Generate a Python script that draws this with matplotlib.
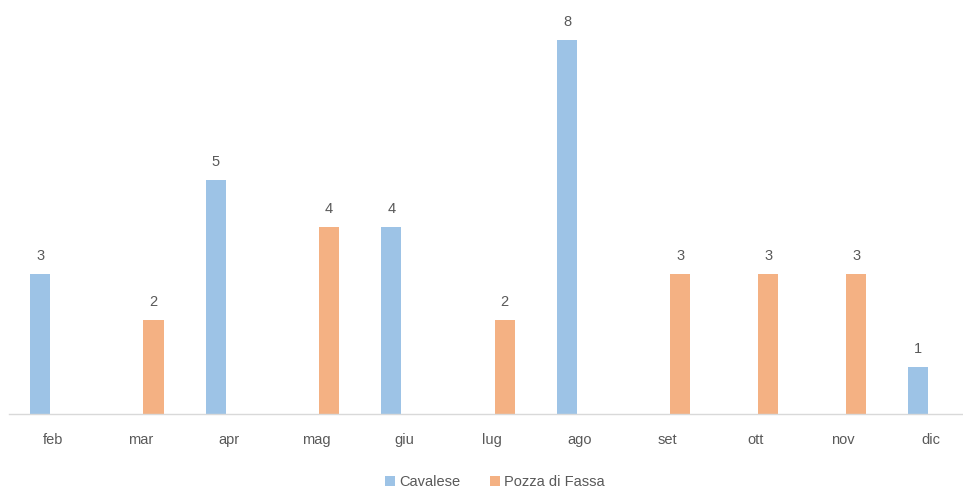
import numpy as np
import matplotlib.pyplot as plt

months = ["feb", "mar", "apr", "mag", "giu", "lug", "ago", "set", "ott", "nov", "dic"]
cavalese = [3, 0, 5, 0, 4, 0, 8, 0, 0, 0, 1]
pozza = [0, 2, 0, 4, 0, 2, 0, 3, 3, 3, 0]

blue = "#9DC3E6"
orange = "#F4B183"
text_col = "#595959"

plt.rcParams["font.family"] = ["Liberation Sans", "DejaVu Sans"]

fig = plt.figure(figsize=(9.63, 4.9), dpi=100)
ax = fig.add_axes([9 / 963, 76 / 490, 966 / 963, 421 / 490])

x = np.arange(len(months))
w = 0.228
off = 0.1455

b1 = ax.bar(x - off, cavalese, w, color=blue, label="Cavalese")
b2 = ax.bar(x + off, pozza, w, color=orange, label="Pozza di Fassa")

for bars, vals in ((b1, cavalese), (b2, pozza)):
    for rect, v in zip(bars, vals):
        if v:
            ax.annotate(str(v), (rect.get_x() + rect.get_width() / 2, v),
                        xytext=(0, 8), textcoords="offset points",
                        ha="center", va="bottom", fontsize=10.5, color=text_col)

ax.set_xlim(-0.5, len(months) - 0.5)
ax.set_ylim(0, 9)
ax.set_xticks(x)
ax.set_xticklabels(months, fontsize=10.5, color=text_col)
ax.tick_params(axis="x", length=0, pad=14)
ax.set_yticks([])
for s in ("top", "right", "left"):
    ax.spines[s].set_visible(False)
ax.spines["bottom"].set_color("#D9D9D9")
ax.spines["bottom"].set_linewidth(1)

fig.legend(handles=[b1, b2], loc="center", bbox_to_anchor=(495 / 963, 1 - 482 / 490),
           ncol=2, frameon=False, fontsize=10.5, labelcolor=text_col,
           handlelength=0.7, handleheight=0.7, handletextpad=0.3, columnspacing=2.0)

fig.savefig("out.png", dpi=100)
